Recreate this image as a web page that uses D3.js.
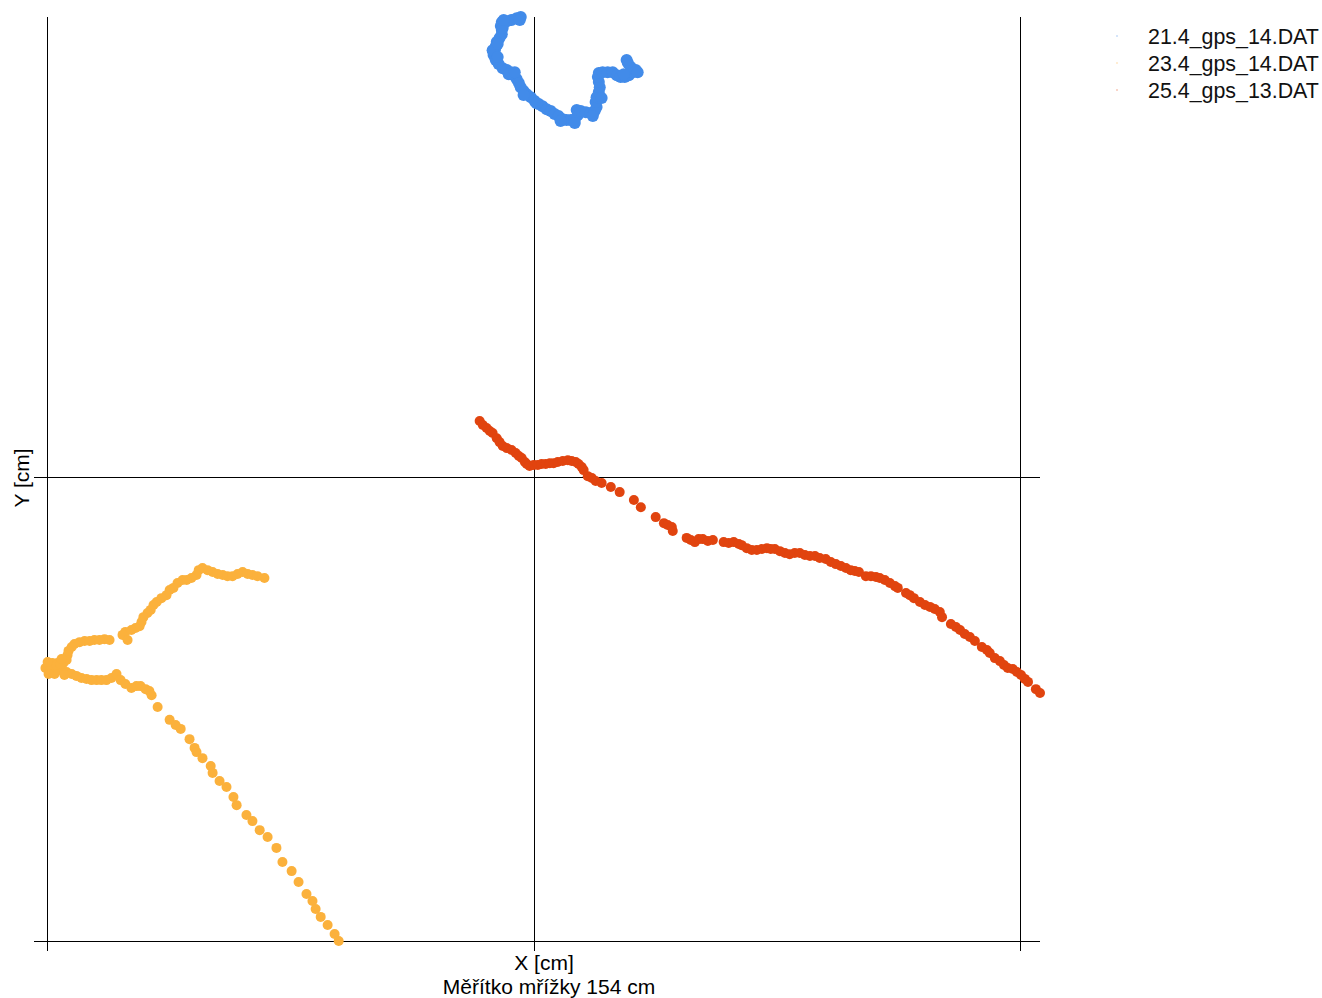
<!DOCTYPE html>
<html>
<head>
<meta charset="utf-8">
<script src="https://cdn.jsdelivr.net/npm/d3@7"></script>
<style>
  html, body { margin: 0; padding: 0; background: #fff; }
  svg { display: block; font-family: "Liberation Sans", Arial, sans-serif; }
</style>
</head>
<body>
<svg id="chart" width="1322" height="998"></svg>
<script>
// GPS tracks, positions in cm
const track21 = [
  [-4.1,152.7],[-5.4,152.3],[-7.0,151.7],[-8.5,151.3],[-10.1,151.0],[-10.4,149.7],[-10.1,148.4],[-10.1,147.0],
  [-10.8,145.7],[-11.7,144.4],[-12.0,143.0],[-12.3,141.7],[-12.7,140.1],[-12.0,138.4],[-11.1,137.1],[-9.8,135.7],
  [-8.5,135.1],[-7.3,134.4],[-6.3,133.4],[-5.4,132.1],[-4.7,130.8],[-4.1,129.4],[-3.2,128.1],[-2.2,127.1],
  [-0.9,126.1],[0.3,124.8],[1.6,123.8],[2.8,123.1],[4.1,122.1],[5.4,121.5],[6.6,120.5],[7.9,119.8],
  [9.2,118.8],[10.4,118.5],[11.7,118.5],[13.0,118.8],[13.9,120.1],[13.6,121.8],[14.9,121.5],[16.5,121.1],
  [18.0,120.8],[19.3,121.5],[19.9,122.8],[19.6,124.5],[19.9,126.1],[20.6,127.8],[20.9,129.4],[20.6,131.1],
  [20.3,132.8],[20.6,134.1],[21.8,134.4],[23.4,134.4],[25.0,134.4],[26.3,133.4],[27.5,132.8],[28.8,132.8],
  [30.1,133.4],[31.3,134.4],[32.3,135.1],[30.7,136.1],[29.8,137.4],[29.4,138.4],
  [-13.0,141.7],[-11.4,143.7],[-9.8,149.1],[-7.9,133.7],[-6.0,134.4],[13.0,117.5],[18.7,119.8],[21.5,125.8],
  [32.9,134.4],[28.5,133.7],[-4.4,151.7],[-3.2,126.8],[0.9,124.1],[8.5,118.2],[-11.4,139.4],[-9.5,151.7]
];

const track23 = [
  [-85.2,-33.5],[-87.4,-32.9],[-89.0,-32.5],[-90.5,-32.2],[-92.1,-31.5],[-93.7,-32.2],[-95.3,-32.9],[-96.9,-32.9],
  [-98.4,-32.5],[-100.0,-32.2],[-101.6,-31.5],[-103.2,-30.9],[-104.8,-30.2],[-106.0,-30.9],[-106.7,-32.5],[-108.3,-33.5],
  [-109.8,-34.2],[-111.1,-34.2],[-112.7,-35.2],[-114.0,-36.8],[-115.2,-37.5],[-116.2,-39.2],[-117.8,-40.2],[-119.3,-41.5],
  [-120.3,-42.5],[-121.2,-44.1],[-122.2,-45.1],[-123.5,-46.5],[-124.1,-48.1],[-124.7,-49.5],[-126.0,-50.1],[-127.3,-50.8],
  [-129.2,-51.4],[-130.1,-52.4],[-128.5,-54.1],
  [-134.2,-54.1],[-135.8,-53.8],[-137.4,-54.1],[-139.0,-54.1],[-140.5,-54.4],[-142.1,-54.4],[-143.7,-54.8],[-145.3,-55.4],
  [-146.2,-56.4],[-147.2,-57.7],[-147.5,-59.1],[-147.8,-60.7],[-148.8,-61.7],[-150.7,-61.7],[-152.3,-61.7],[-153.5,-62.4],
  [-154.5,-63.4],[-153.2,-64.4],[-151.6,-64.1],[-150.4,-63.4],[-149.1,-64.4],[-147.8,-64.7],[-146.2,-65.4],[-144.7,-66.0],
  [-143.1,-66.7],[-141.5,-67.0],[-139.9,-67.4],[-138.3,-67.4],[-136.8,-67.4],[-135.2,-67.4],[-133.6,-66.7],[-132.0,-65.4],
  [-130.7,-67.4],[-129.2,-68.7],[-127.3,-70.0],[-125.7,-69.4],[-124.4,-69.4],[-122.8,-70.4],[-121.6,-71.0],[-120.9,-72.4],
  [-152.6,-63.1],[-151.0,-62.4],[-149.7,-62.1],[-153.8,-61.4],[-151.6,-65.4],[-153.5,-65.4],[-149.4,-60.4],[-148.5,-65.7],
  [-119.0,-76.3],[-115.2,-80.6],[-113.3,-82.3],[-111.7,-83.6],[-108.9,-87.0],[-107.3,-89.9],[-106.7,-91.3],[-104.8,-93.3],
  [-102.2,-95.9],[-101.6,-98.2],[-99.4,-100.9],[-97.2,-102.9],[-95.0,-106.2],[-94.0,-108.9],[-90.9,-112.2],[-89.0,-114.2],
  [-86.7,-117.2],[-84.2,-119.5],[-81.4,-123.1],[-79.5,-127.8],[-76.6,-130.8],[-74.4,-134.4],[-71.9,-138.4],[-70.0,-140.7],
  [-69.0,-143.4],[-67.4,-146.0],[-65.2,-148.7],[-63.0,-151.7],[-61.7,-154.0]
];

const track25 = [
  [-17.1,18.6],[-16.1,17.3],[-14.9,16.3],[-13.9,15.3],[-13.0,14.6],[-11.7,12.9],[-10.8,11.6],[-9.8,10.3],
  [-8.5,9.6],[-7.0,9.0],[-5.7,8.0],[-4.7,7.0],[-3.8,6.3],[-2.8,5.0],[-2.2,4.3],[-1.3,3.7],
  [0,4.0],[1.3,4.0],[2.5,4.3],[3.8,4.3],[5.1,4.6],[6.3,4.6],[7.6,5.0],[9.2,5.3],
  [10.8,5.6],[12.0,5.3],[13.3,5.0],[14.2,4.3],[15.2,3.3],[15.8,2.3],[17.1,0.3],[18.4,-0.3],
  [19.6,-1.3],[21.5,-2.0],[24.4,-3.3],[27.2,-5.0],[31.7,-7.6],[33.9,-10.0],[38.6,-13.3],[41.2,-15.3],
  [42.4,-15.9],[43.7,-16.6],[44.0,-17.9],[48.4,-20.2],[49.7,-20.9],[51.0,-21.6],[52.2,-20.6],[53.5,-20.6],
  [55.1,-21.2],[56.7,-20.9],[60.1,-21.6],[61.7,-21.9],[63.3,-21.6],[64.9,-22.2],[65.8,-22.6],[67.4,-23.6],
  [69.0,-24.2],[70.6,-24.2],[72.2,-23.9],[73.8,-23.6],[75.0,-23.9],[76.3,-23.9],[77.9,-24.6],[79.5,-25.2],
  [81.0,-25.6],[82.6,-25.2],[84.2,-25.2],[85.8,-25.9],[87.4,-26.2],[89.0,-26.2],[90.5,-26.9],[92.4,-27.2],
  [94.0,-28.2],[95.6,-28.9],[97.2,-29.5],[98.8,-30.2],[100.3,-30.9],[101.6,-31.2],[102.9,-31.5],[105.1,-32.9],
  [106.7,-32.9],[108.3,-33.2],[109.5,-33.5],[111.1,-34.2],[112.7,-35.2],[114.3,-36.2],[115.2,-36.8],[117.8,-38.5],
  [119.0,-39.2],[120.3,-40.2],[122.2,-41.5],[123.8,-42.5],[125.4,-43.1],[126.9,-43.8],[128.5,-44.8],[129.2,-46.5],
  [132.0,-48.8],[133.6,-49.8],[134.9,-50.8],[136.4,-52.1],[138.0,-53.1],[139.6,-54.4],[141.8,-56.4],[143.4,-57.4],
  [144.3,-58.4],[145.9,-60.1],[147.5,-61.1],[148.8,-62.4],[150.0,-63.4],[151.6,-63.7],[152.9,-64.7],[154.2,-65.7],
  [155.4,-67.0],[156.4,-68.0],[158.9,-70.4],[160.2,-71.7]
];

const seriesNames = ["21.4_gps_14.DAT", "23.4_gps_14.DAT", "25.4_gps_13.DAT"];
const seriesColors = ["#428be9", "#fbb13c", "#e1440f"];
const seriesTracks = [track21, track23, track25];
const seriesRadius = [6, 5, 5];

// grid spacing of 154 cm
const gridValues = [-154, 0, 154];

const xTitle = "X [cm]";
const yTitle = "Y [cm]";
const scaleNote = "Měřítko mřížky 154 cm";

const svg = d3.select("#chart");

const plot = { left: 47, right: 1040, top: 17, bottom: 941 };

const x = d3.scaleLinear().domain([-154, 160.2]).range([plot.left, plot.right]);
const y = d3.scaleLinear().domain([-154, 152.7]).range([plot.bottom, plot.top]);

const grid = svg.append("g").attr("shape-rendering", "crispEdges");

// vertical grid lines with a tick below the axis
grid.selectAll("line.v").data(gridValues).join("line")
  .attr("class", "v")
  .attr("x1", d => Math.round(x(d)) + 0.5).attr("x2", d => Math.round(x(d)) + 0.5)
  .attr("y1", plot.top).attr("y2", plot.bottom + 10)
  .attr("stroke", "#000").attr("stroke-width", 1);

// horizontal grid lines with a tick left of the axis
grid.selectAll("line.h").data(gridValues.filter(v => v <= 0)).join("line")
  .attr("class", "h")
  .attr("x1", plot.left - 13).attr("x2", plot.right)
  .attr("y1", d => Math.round(y(d)) + 0.5).attr("y2", d => Math.round(y(d)) + 0.5)
  .attr("stroke", "#000").attr("stroke-width", 1);

// tracks
seriesTracks.forEach((track, i) => {
  svg.append("g").selectAll("circle").data(track).join("circle")
    .attr("cx", d => x(d[0]))
    .attr("cy", d => y(d[1]))
    .attr("r", seriesRadius[i])
    .attr("fill", seriesColors[i]);
});

// axis titles
svg.append("text")
  .attr("x", 544).attr("y", 970)
  .attr("text-anchor", "middle")
  .attr("font-size", 21)
  .text(xTitle);

svg.append("text")
  .attr("x", 549).attr("y", 994)
  .attr("text-anchor", "middle")
  .attr("font-size", 21)
  .text(scaleNote);

svg.append("text")
  .attr("transform", "translate(29,478) rotate(-90)")
  .attr("text-anchor", "middle")
  .attr("font-size", 21)
  .text(yTitle);

// legend
const legend = svg.append("g").attr("transform", "translate(1117,0)");
const items = legend.selectAll("g").data(seriesNames).join("g")
  .attr("transform", (d, i) => `translate(0,${44 + i * 27})`);
items.append("circle")
  .attr("cx", 0).attr("cy", -8).attr("r", 1)
  .attr("fill", (d, i) => seriesColors[i])
  .attr("opacity", 0.3);
items.append("text")
  .attr("x", 31).attr("y", 0)
  .attr("font-size", 21.4)
  .attr("fill", "#111")
  .text(d => d);
</script>
</body>
</html>
